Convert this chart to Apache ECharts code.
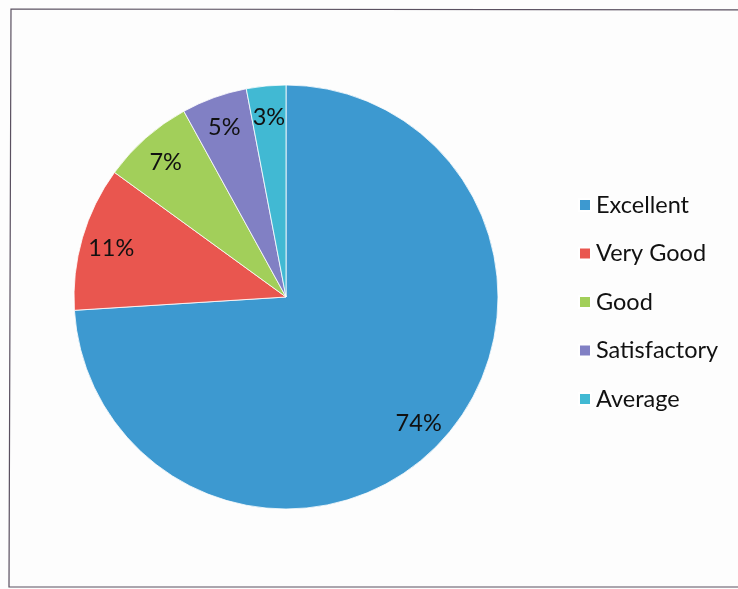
<!DOCTYPE html>
<html>
<head>
<meta charset="utf-8">
<script src="https://cdn.jsdelivr.net/npm/echarts@6/dist/echarts.min.js"></script>
<style>html,body{margin:0;padding:0;background:#fdfdfd;}#c{width:738px;height:589px;}</style>
</head>
<body>
<div id="c"></div>
<script>
const categories = ["Excellent", "Very Good", "Good", "Satisfactory", "Average"];
const values = [74, 11, 7, 5, 3];
const colors = ["#3d99d0", "#e9564f", "#a2cf5a", "#8180c4", "#41b9d3"];

const data = categories.map((n, i) => ({ name: n, value: values[i], itemStyle: { color: colors[i] } }));
const FONT = "Lato, 'Open Sans', sans-serif";
const chart = echarts.init(document.getElementById('c'), null, { renderer: 'canvas' });
chart.setOption({
  backgroundColor: '#fdfdfd',
  animation: false,
  graphic: [{
    type: 'polyline',
    shape: { points: [[760, 10], [11, 9], [9, 587], [760, 587]] },
    style: { stroke: '#5a5060', lineWidth: 1.2, fill: 'none' }
  }],
  legend: {
    orient: 'vertical',
    left: 573,
    top: 188,
    itemWidth: 12,
    itemHeight: 12,
    itemGap: 24.5,
    icon: 'rect',
    data: categories,
    textStyle: { fontFamily: FONT, fontSize: 23.5, color: '#111', lineHeight: 22, padding: [0, 0, 0, 0] }
  },
  series: [{
    type: 'pie',
    center: [286, 297],
    radius: [0, 212],
    startAngle: 90,
    clockwise: true,
    label: { show: false },
    labelLine: { show: false },
    itemStyle: { borderColor: '#ffffff', borderWidth: 0.8 },
    emphasis: { disabled: true },
    data: data
  }, {
    type: 'pie',
    center: [286, 299],
    radius: [144, 214],
    startAngle: 90,
    clockwise: true,
    silent: true,
    legendHoverLink: false,
    itemStyle: { color: 'rgba(0,0,0,0)', borderWidth: 0 },
    label: {
      show: true,
      position: 'inside',
      formatter: p => p.value + '%',
      fontFamily: FONT,
      fontSize: 23.5,
      color: '#111'
    },
    labelLine: { show: false },
    emphasis: { disabled: true },
    data: categories.map((n, i) => ({ name: n, value: values[i] }))
  }]
});
</script>
</body>
</html>
